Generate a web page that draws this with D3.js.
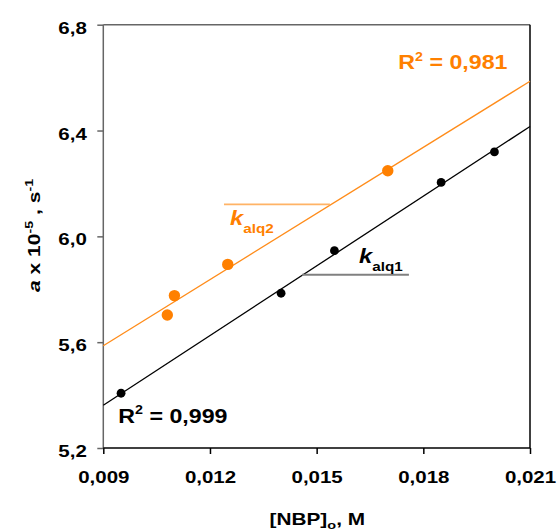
<!DOCTYPE html>
<html><head><meta charset="utf-8">
<script src="https://cdn.jsdelivr.net/npm/d3@7"></script>
<style>
body{margin:0;background:#fff;}
svg text{font-family:"Liberation Sans",Arial,sans-serif;font-weight:bold;}
</style></head>
<body><svg id="c" width="557" height="531"></svg>
<script>
// ---- data ----
const xTicks = [0.009, 0.012, 0.015, 0.018, 0.021];
const yTicks = [5.2, 5.6, 6.0, 6.4, 6.8];
const alq1X = [0.0095, 0.014, 0.0155, 0.0185, 0.020];
const alq1Y = [5.407, 5.785, 5.946, 6.204, 6.319];
const alq2X = [0.0108, 0.011, 0.0125, 0.017];
const alq2Y = [5.703, 5.776, 5.894, 6.248];
const r2Labels = ["0,999", "0,981"];

const SX = 1.28;
const svg = d3.select("#c");
const L = 103.3, R = 530, T = 24.7, B = 448;
const x = d3.scaleLinear().domain([0.009, 0.021]).range([L, R]);
const y = d3.scaleLinear().domain([5.2, 6.8]).range([B, T]);
const loc = d3.formatLocale({decimal: ",", thousands: ".", grouping: [3], currency: ["", ""]});

function fit(xs, ys) {
  const mx = d3.mean(xs), my = d3.mean(ys);
  let sxy = 0, sxx = 0;
  xs.forEach((v, i) => { sxy += (v - mx) * (ys[i] - my); sxx += (v - mx) * (v - mx); });
  const b = sxy / sxx;
  return v => my + b * (v - mx);
}

// axes
const gx = svg.append("g").attr("transform", `translate(0,${B})`)
  .call(d3.axisBottom(x).tickValues(xTicks).tickSize(6).tickSizeOuter(0).tickFormat(loc.format(".3f")));
gx.select(".domain").remove();
gx.selectAll("line").attr("stroke", "#000").attr("stroke-width", 1.5);
gx.selectAll("text").attr("y", 0).attr("dy", 0).attr("fill", "#000")
  .attr("font-size", 16).attr("transform", `translate(0,35.3) scale(${SX},1)`);

const gy = svg.append("g").attr("transform", `translate(${L},0)`)
  .call(d3.axisLeft(y).tickValues(yTicks).tickSize(6).tickSizeOuter(0).tickFormat(loc.format(".1f")));
gy.select(".domain").remove();
gy.selectAll("line").attr("stroke", "#666").attr("stroke-width", 1.5);
gy.selectAll("text").attr("x", 0).attr("dy", 0).attr("fill", "#000")
  .attr("font-size", 16).attr("transform", `translate(-16.5,8.5) scale(${SX},1)`);

// frame
svg.append("line").attr("x1", L).attr("x2", L).attr("y1", T).attr("y2", B).attr("stroke", "#666").attr("stroke-width", 1.5);
svg.append("line").attr("x1", L).attr("x2", R).attr("y1", T).attr("y2", T).attr("stroke", "#666").attr("stroke-width", 1.5);
svg.append("line").attr("x1", R).attr("x2", R).attr("y1", T).attr("y2", B).attr("stroke", "#000").attr("stroke-width", 1.5);
svg.append("line").attr("x1", L).attr("x2", R).attr("y1", B).attr("y2", B).attr("stroke", "#000").attr("stroke-width", 1.5);

// regression lines
const f1 = fit(alq1X, alq1Y), f2 = fit(alq2X, alq2Y);
const dom = x.domain();
svg.append("line").attr("x1", x(dom[0])).attr("x2", x(dom[1])).attr("y1", y(f2(dom[0]))).attr("y2", y(f2(dom[1])))
  .attr("stroke", "#ff8c1a").attr("stroke-width", 1.3);
svg.append("line").attr("x1", x(dom[0])).attr("x2", x(dom[1])).attr("y1", y(f1(dom[0]))).attr("y2", y(f1(dom[1])))
  .attr("stroke", "#000").attr("stroke-width", 1.3);

// annotation leader lines
svg.append("line").attr("x1", x(0.012394)).attr("x2", x(0.015374)).attr("y1", y(6.121)).attr("y2", y(6.121))
  .attr("stroke", "#ffb366").attr("stroke-width", 1.6);
svg.append("line").attr("x1", x(0.014587)).attr("x2", x(0.017595)).attr("y1", y(5.855)).attr("y2", y(5.855))
  .attr("stroke", "#808080").attr("stroke-width", 2);

// points
svg.append("g").selectAll("circle").data(alq2X).join("circle")
  .attr("cx", d => x(d)).attr("cy", (d, i) => y(alq2Y[i])).attr("r", 5.7).attr("fill", "#ff8000");
svg.append("g").selectAll("circle").data(alq1X).join("circle")
  .attr("cx", d => x(d)).attr("cy", (d, i) => y(alq1Y[i])).attr("r", 4.4).attr("fill", "#000");

// text helper
function txt(tx, ty, anchor, size, color, extra, sx) {
  return svg.append("text").attr("transform", `translate(${tx},${ty}) ${extra || ""} scale(${sx || SX},1)`)
    .attr("text-anchor", anchor).attr("font-size", size).attr("fill", color);
}

// R^2 labels
function r2(tx, ty, color, val) {
  const t = txt(tx, ty, "start", 19.5, color, "", 1.19);
  t.append("tspan").text("R");
  t.append("tspan").attr("dy", -8.5).attr("font-size", 12).text("2");
  t.append("tspan").attr("dy", 8.5).text(" = " + val);
}
r2(118.3, 422.7, "#000", r2Labels[0]);
r2(398.3, 69.3, "#ff8000", r2Labels[1]);

// k labels
function klab(tx, ty, color, sub) {
  const t = txt(tx, ty, "start", 19.5, color, "", 1.22);
  t.append("tspan").attr("font-style", "italic").text("k");
  t.append("tspan").attr("dy", 8).attr("font-size", 12.5).text(sub);
}
klab(230, 225, "#ff8000", "alq2");
klab(359, 263, "#000", "alq1");

// axis titles
const xt = txt(317.3, 525, "middle", 16.5, "#000", "", 1.26);
xt.append("tspan").text("[NBP]");
xt.append("tspan").attr("dy", 4).attr("font-size", 11.5).text("o");
xt.append("tspan").attr("dy", -4).text(", M");

const yt = txt(40, 235.5, "middle", 17, "#000", "rotate(-90)", 1.24);
yt.append("tspan").attr("font-style", "italic").text("a");
yt.append("tspan").text(" x 10");
yt.append("tspan").attr("dy", -7.5).attr("font-size", 11.5).text("-5");
yt.append("tspan").attr("dy", 7.5).text(" , s");
yt.append("tspan").attr("dy", -7.5).attr("font-size", 11.5).text("-1");
</script></body></html>
